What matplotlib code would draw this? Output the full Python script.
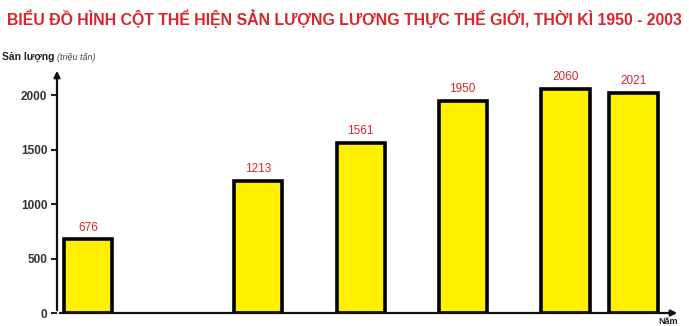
import matplotlib
matplotlib.use("Agg")
import matplotlib.pyplot as plt

# du lieu
years = ["1950", "1970", "1980", "1990", "2000", "2003"]
values = [676, 1213, 1561, 1950, 2060, 2021]
yticks = [0, 500, 1000, 1500, 2000]

# vi tri cot tren truc hoanh (don vi tuy y)
xpos = [0.30, 1.95, 2.95, 3.94, 4.94, 5.60]

plt.rcParams['font.family'] = ['Liberation Sans', 'DejaVu Sans']

fig = plt.figure(figsize=(6.89, 3.26), dpi=100)
ax = fig.add_axes([57/689, 13/326, 623/689, 245/326])

ax.bar(xpos, values, width=0.47, color='#fff000', edgecolor='black', linewidth=2.6, zorder=3)

for x, v in zip(xpos, values):
    ax.annotate(str(v), (x, v), xytext=(0, 4), textcoords='offset points',
                ha='center', va='bottom', color='#d8262c', fontsize=8.5)

ax.set_xlim(0, 6.05)
ax.set_ylim(0, 2250)
ax.set_yticks(yticks)
ax.set_yticklabels([str(t) for t in yticks], fontweight='bold', color='#333333', fontsize=8.5)
ax.tick_params(axis='y', length=4, width=1.5, color='#222222', pad=3)
ax.set_xticks([])
for s in ax.spines.values():
    s.set_visible(False)

# truc co mui ten
ax.annotate('', xy=(0, 1.0), xytext=(0, 0), xycoords='axes fraction',
            arrowprops=dict(arrowstyle='-|>', color='#111111', lw=1.6, mutation_scale=9))
ax.annotate('', xy=(1.0, 0), xytext=(0, 0), xycoords='axes fraction',
            arrowprops=dict(arrowstyle='-|>', color='#111111', lw=1.6, mutation_scale=9))

fig.text(0.5, 1 - 19/326, 'BIỂU ĐỒ HÌNH CỘT THỂ HIỆN SẢN LƯỢNG LƯƠNG THỰC THẾ GIỚI, THỜI KÌ 1950 - 2003',
         ha='center', va='center', color='#d8262c', fontweight='bold', fontsize=11.4)

fig.text(2/689, 1 - 57/326, 'Sản lượng', ha='left', va='center', fontweight='bold',
         fontsize=7.5, color='#222222')
fig.text(57/689, 1 - 57/326, '(triệu tấn)', ha='left', va='center', style='italic',
         fontsize=6.5, color='#444444')

fig.text(668/689, 1 - 321/326, 'Năm', ha='center', va='center', fontweight='bold',
         fontsize=6.5, color='#222222')

fig.savefig('out.png', dpi=100)
